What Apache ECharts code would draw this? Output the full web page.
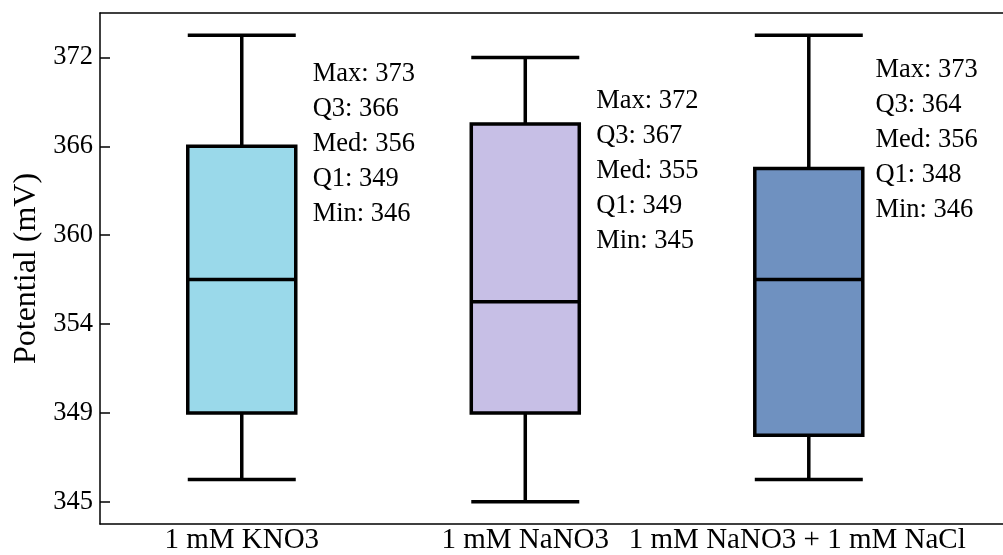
<!DOCTYPE html>
<html>
<head>
<meta charset="utf-8">
<script src="https://cdn.jsdelivr.net/npm/echarts@6/dist/echarts.min.js"></script>
<style>
  html, body { margin: 0; padding: 0; background: #fff; }
  #chart { width: 1003px; height: 555px; }
</style>
</head>
<body>
<div id="chart"></div>
<script>
// ---- data ----
const categories = ['1 mM KNO3', '1 mM NaNO3', '1 mM NaNO3 + 1 mM NaCl'];
// y-axis tick labels (evenly spaced ticks at positions 0..5)
const tickLabels = ['345', '349', '354', '360', '366', '372'];
// box positions on the tick scale: [min, Q1, median, Q3, max]
const kno3Box = [0.25, 1, 2.5, 4, 5.25];
const nano3Box = [0, 1, 2.25, 4.25, 5];
const naclBox = [0.25, 0.75, 2.5, 3.75, 5.25];
// annotated statistics: [Max, Q3, Med, Q1, Min]
const kno3Stats = [373, 366, 356, 349, 346];
const nano3Stats = [372, 367, 355, 349, 345];
const naclStats = [373, 364, 356, 348, 346];

// ---- layout helpers ----
const boxColors = ['#9AD9EA', '#C7BFE6', '#6F91C0'];
const noteAnchors = [[0.25, 4.02], [1.25, 3.725], [2.235, 4.075]];
const FONT = 'Liberation Serif';

const boxes = [kno3Box, nano3Box, naclBox];
const stats = [kno3Stats, nano3Stats, naclStats];

const chart = echarts.init(document.getElementById('chart'), null, { renderer: 'canvas' });
const axisLineStyle = { color: '#000', width: 1.5 };
const option = {
  animation: false,
  grid: { left: 100, top: 13, bottom: 31, right: 0, show: false },
  xAxis: [
    {
      type: 'value', min: -0.5, max: 2.685,
      axisLine: { show: true, onZero: false, lineStyle: axisLineStyle },
      axisTick: { show: false },
      splitLine: { show: false },
      axisLabel: {
        customValues: [0, 1, 2],
        formatter: function (v) {
          const i = Math.round(v);
          return i === 2 ? '{s|' + categories[i] + '}' : categories[i];
        },
        rich: { s: { padding: [0, 23, 0, 0], fontFamily: FONT, fontSize: 29, color: '#000' } },
        fontFamily: FONT, fontSize: 29, color: '#000', margin: 2
      }
    },
    {
      type: 'value', position: 'top', min: -0.5, max: 2.685,
      axisLine: { show: true, onZero: false, lineStyle: axisLineStyle },
      axisTick: { show: false }, axisLabel: { show: false }, splitLine: { show: false }
    }
  ],
  yAxis: {
    type: 'value', min: -0.25, max: 5.5,
    name: 'Potential (mV)', nameLocation: 'middle', nameGap: 56,
    nameTextStyle: { fontFamily: FONT, fontSize: 32, color: '#000' },
    axisLine: { show: true, onZero: false, lineStyle: axisLineStyle },
    axisTick: { show: true, inside: true, length: 10, customValues: [0, 1, 2, 3, 4, 5], lineStyle: axisLineStyle },
    splitLine: { show: false },
    axisLabel: {
      customValues: [0, 1, 2, 3, 4, 5],
      formatter: function (v) { return tickLabels[Math.round(v)]; },
      fontFamily: FONT, fontSize: 26.5, color: '#000', margin: 7
    }
  },
  series: [
    {
      type: 'boxplot',
      boxWidth: [108, 108],
      itemStyle: { borderColor: '#000', borderWidth: 3.5 },
      emphasis: { disabled: true },
      data: boxes.map(function (b, i) {
        return { value: [i].concat(b), itemStyle: { color: boxColors[i], borderColor: '#000', borderWidth: 3.5 } };
      })
    },
    {
      type: 'scatter',
      symbolSize: 0,
      silent: true,
      itemStyle: { color: '#fff' },
      emphasis: { disabled: true },
      data: noteAnchors,
      label: {
        show: true, position: 'right', distance: 0,
        align: 'left', verticalAlign: 'middle', opacity: 1,
        fontFamily: FONT, fontSize: 26.5, lineHeight: 35, color: '#000',
        formatter: function (p) {
          const s = stats[p.dataIndex];
          return ['Max: ' + s[0], 'Q3: ' + s[1], 'Med: ' + s[2], 'Q1: ' + s[3], 'Min: ' + s[4]].join('\n');
        }
      }
    }
  ]
};
chart.setOption(option);
</script>
</body>
</html>
